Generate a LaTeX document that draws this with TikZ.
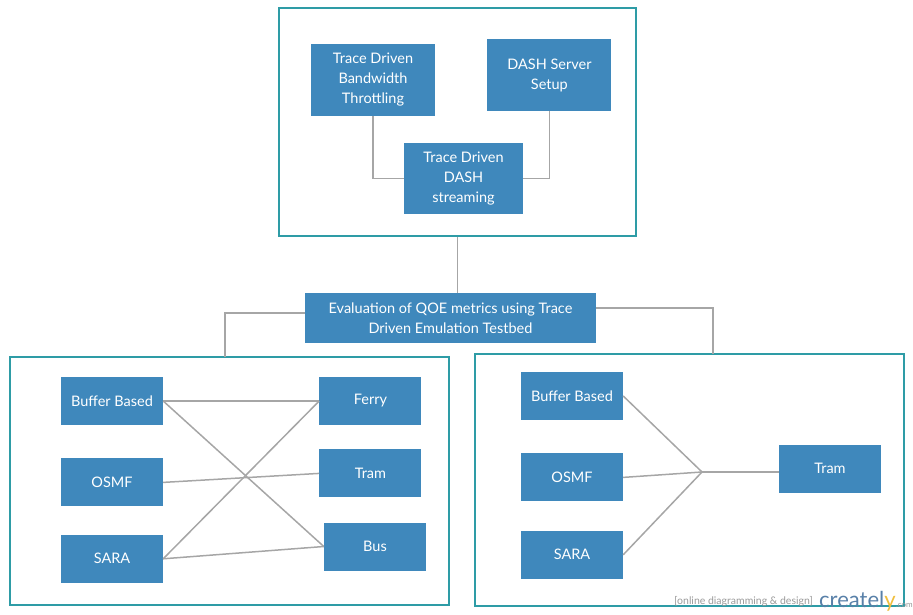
\documentclass[tikz,border=0pt]{standalone}
\usepackage{fontspec}
\setmainfont{Lato}
\usepackage{tikz}
\usetikzlibrary{positioning}
\definecolor{boxblue}{RGB}{63,136,188}
\definecolor{frameteal}{RGB}{46,156,166}
\definecolor{linegray}{RGB}{166,166,166}
\definecolor{logoblue}{RGB}{88,128,168}
\definecolor{logoyellow}{RGB}{240,190,60}

\begin{document}
\begin{tikzpicture}[x=1pt,y=-1pt,thin]

                \tikzset{block/.style={fill=boxblue, text=white, font=\fontsize{14.5}{20}\selectfont, align=center, inner sep=0pt, minimum width=102pt, minimum height=48pt},
                         frame/.style={draw=frameteal, line width=1.5pt, inner sep=0pt},
                         wire/.style={draw=linegray, line width=1.5pt}}

                \useasboundingbox (0,0) rectangle (913,615);

                \node[frame, minimum width=357pt, minimum height=228pt] (top) at (457.5,122) {};
                \node[frame, minimum width=439pt, minimum height=248pt] (leftbox) at (229.5,481) {};
                \node[frame, minimum width=429pt, minimum height=252pt] (rightbox) at (689.5,480) {};

                \node[block, minimum width=124pt, minimum height=72pt] (throttle) at (373,80) {Trace Driven\\Bandwidth\\Throttling};
                \node[block, minimum width=124pt, minimum height=72pt] (server) [right=52pt of throttle, yshift=5pt] {DASH Server\\Setup};
                \node[block, minimum width=119pt, minimum height=71pt] (stream) at (463.5,178.5) {Trace Driven\\DASH\\streaming};

                \node[block, minimum width=291pt, minimum height=50pt] (eval) at (450.5,318) {Evaluation of QOE metrics using Trace\\Driven Emulation Testbed};

                \node[block] (bbL) at (112,401) {Buffer Based};
                \node[block] (osmfL) [below=33pt of bbL] {OSMF};
                \node[block] (saraL) [below=28pt of osmfL] {SARA};
                \node[block] (ferry) [right=156pt of bbL] {Ferry};
                \node[block] (tramL) [below=24pt of ferry] {Tram};
                \node[block] (bus) at (375,546.5) {Bus};

                \node[block] (bbR) at (572,396) {Buffer Based};
                \node[block] (osmfR) [below=33pt of bbR] {OSMF};
                \node[block] (saraR) [below=29pt of osmfR] {SARA};
                \node[block] (tramR) at (830,468.5) {Tram};

                \coordinate (j) at (702,472);
                \coordinate (ltop) at (225,357);
                \coordinate (rtop) at (713,354);

                \path[wire] (throttle.south) |- (stream.west);
                \path[wire] (server.south) |- (stream.east);
                \path[wire] (top.south) -- (top.south |- eval.north);
                \path[wire] ([yshift=5pt]eval.west) -| (ltop);
                \path[wire] ([yshift=10pt]eval.east) -| (rtop);

                \path[wire] (bbL.east) -- (ferry.west);
                \path[wire] (bbL.east) -- (bus.west);
                \path[wire] (osmfL.east) -- (tramL.west);
                \path[wire] (saraL.east) -- (ferry.west);
                \path[wire] (saraL.east) -- (bus.west);

                \path[wire] (bbR.east) -- (j);
                \path[wire] (osmfR.east) -- (j);
                \path[wire] (saraR.east) -- (j);
                \path[wire] (j) -- (j -| tramR.west);

                \node[text=gray!80, font=\fontsize{8}{8}\selectfont, anchor=base east, inner sep=0pt] (dotcom) at (913,607) {.com};
                \node[text=logoblue, font=\fontsize{22}{22}\selectfont, anchor=base east, inner sep=0pt] (logo) at (dotcom.base west) {createl\textcolor{logoyellow}{y}};
                \node[text=gray!80, font=\fontsize{10.5}{10.5}\selectfont, anchor=base east, inner sep=0pt] (tagline) at ([xshift=-6pt,yshift=3pt]logo.base west) {[online diagramming \& design]};
            \end{tikzpicture}
\end{document}
